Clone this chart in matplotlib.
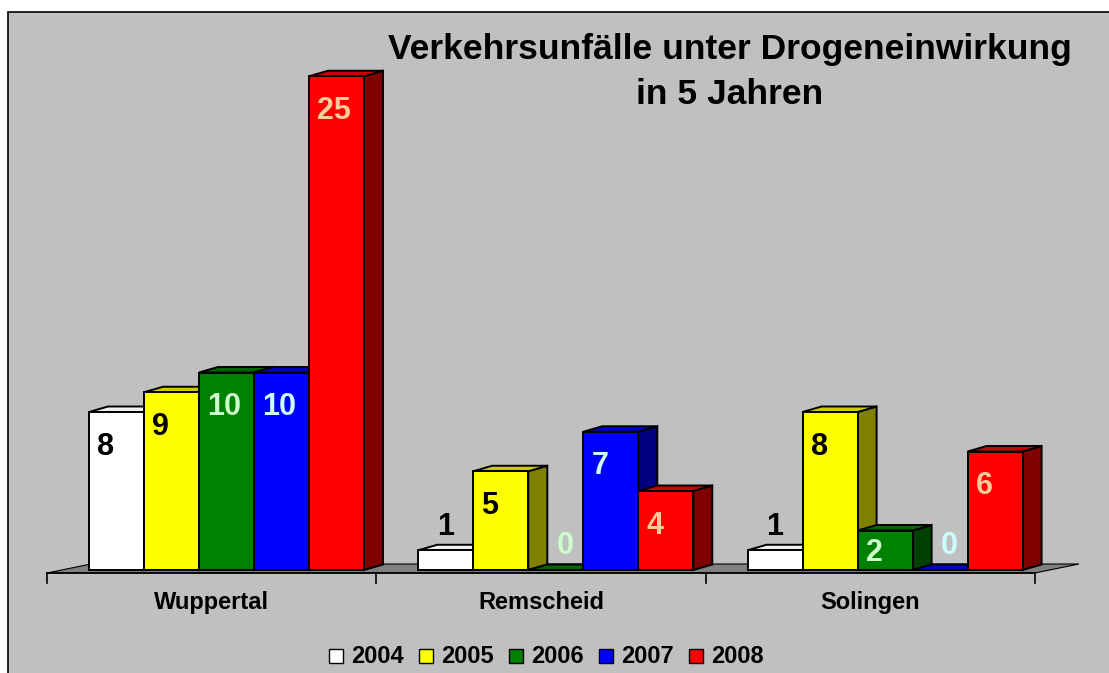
import numpy as np
import matplotlib
matplotlib.use('Agg')
import matplotlib.pyplot as plt
from matplotlib.patches import Polygon, Rectangle

plt.rcParams['font.family'] = ['Liberation Sans', 'DejaVu Sans']

cities = ['Wuppertal', 'Remscheid', 'Solingen']
years = ['2004', '2005', '2006', '2007', '2008']
v2004 = [8, 1, 1]
v2005 = [9, 5, 8]
v2006 = [10, 0, 2]
v2007 = [10, 7, 0]
v2008 = [25, 4, 6]
values = [v2004, v2005, v2006, v2007, v2008]

front_colors = ['#FFFFFF', '#FFFF00', '#008000', '#0000FF', '#FF0000']
top_colors = ['#F0F0F0', '#CCCC00', '#006600', '#0000CC', '#CC0000']
side_colors = ['#808080', '#808000', '#004000', '#000080', '#800000']
label_colors = ['black', 'black', '#CCFFCC', '#CCFFFF', '#FFCC99']

# pixel <-> data mapping (figure is drawn 1:1 in pixels)
W, H = 1109, 673
x0px, unit_px = 47, 329.3
y0px, val_px = 570, 19.75

def X(px):
    return (px - x0px) / unit_px

def Y(py):
    return (y0px - py) / val_px

fig = plt.figure(figsize=(W / 100, H / 100), dpi=100)
ax = fig.add_axes([0, 0, 1, 1])
ax.set_xlim(X(0), X(W))
ax.set_ylim(Y(H), Y(0))
ax.axis('off')

# grey chart area
ax.add_patch(Rectangle((X(8), Y(690)), X(1130) - X(8), Y(12) - Y(690),
                       fc='#C0C0C0', ec='black', lw=1.2, zorder=0))

# floor
fdx, fy0, fy1 = 44 / unit_px, Y(573), Y(564)
ax.add_patch(Polygon([(0, fy0), (3, fy0), (3 + fdx, fy1), (fdx, fy1)],
                     closed=True, fc='#808080', ec='black', lw=0.8, zorder=1))
ax.plot([0, 3], [fy0, fy0], color='black', lw=1.2, zorder=2)
for t in range(4):
    ax.plot([t, t], [fy0, Y(583)], color='black', lw=1.2, zorder=2)

# bars
bw = 55 / unit_px
ddx = 19 / unit_px
ddy = 5.5 / val_px
shift = 42 / unit_px
off = 11 / val_px   # half digit height
for ci in range(len(cities)):
    for yi in range(len(years)):
        v = values[yi][ci]
        x = ci + shift + yi * bw
        z = 10 + ci * 10 + yi
        ax.add_patch(Polygon([(x + bw, 0), (x + bw + ddx, ddy), (x + bw + ddx, v + ddy), (x + bw, v)],
                             closed=True, fc=side_colors[yi], ec='black', lw=1.4, zorder=z))
        ax.add_patch(Polygon([(x, v), (x + ddx, v + ddy), (x + bw + ddx, v + ddy), (x + bw, v)],
                             closed=True, fc=top_colors[yi], ec='black', lw=1.4, zorder=z))
        ax.add_patch(Rectangle((x, 0), bw, v, fc=front_colors[yi], ec='black', lw=1.4, zorder=z))
        if v >= 2:
            c = max(v - 1.6, v / 2)
            ax.text(x + 8 / unit_px, c - off, str(v), ha='left', va='baseline',
                    fontsize=22, fontweight='bold', color=label_colors[yi], zorder=200)
        else:
            xc = x + bw / 2 + (ddx / 2 if v == 0 else 0)
            ax.text(xc, v + 1.35 - off, str(v), ha='center', va='baseline',
                    fontsize=22, fontweight='bold', color=label_colors[yi], zorder=200)

# category labels
for ci, name in enumerate(cities):
    ax.text(ci + 0.5, Y(609), name, ha='center', va='baseline',
            fontsize=17, fontweight='bold', zorder=200)

# title
ax.text(X(730), Y(59), 'Verkehrsunfälle unter Drogeneinwirkung', ha='center', va='baseline',
        fontsize=25.5, fontweight='bold', zorder=200)
ax.text(X(730), Y(104), 'in 5 Jahren', ha='center', va='baseline',
        fontsize=25.5, fontweight='bold', zorder=200)

# legend
for yi, yr in enumerate(years):
    bx = 329 + 90 * yi
    ax.add_patch(Rectangle((X(bx), Y(663)), 14 / unit_px, 14 / val_px,
                           fc=front_colors[yi], ec='black', lw=1.0, zorder=200))
    ax.text(X(bx + 22), Y(663), yr, ha='left', va='baseline',
            fontsize=17, fontweight='bold', zorder=200)

fig.savefig('out.png', dpi=100)
